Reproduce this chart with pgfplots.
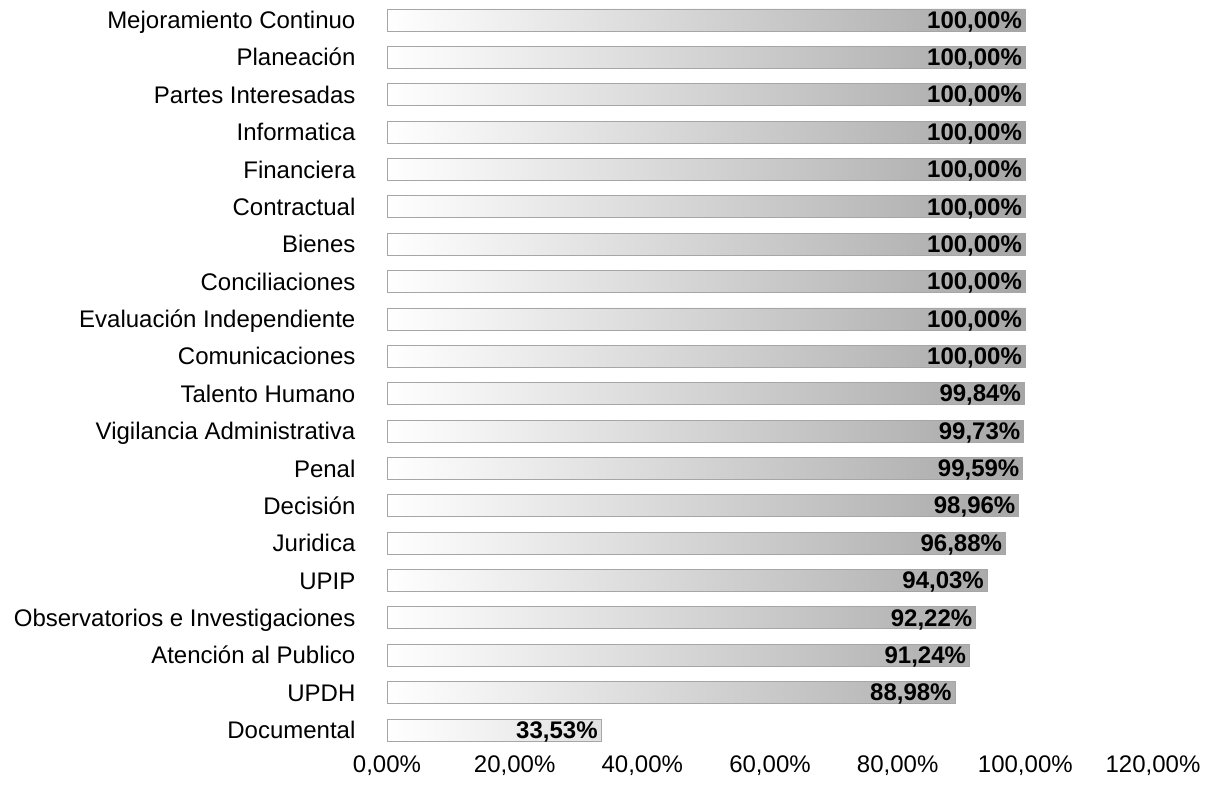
\documentclass[border=0pt]{standalone}
\usepackage{pgfplots}
\pgfplotsset{compat=1.18}
\usepackage{fontspec}
\setmainfont{Liberation Sans}
\begin{document}
\begin{tikzpicture}
\begin{axis}[
  name=ax,
  scale only axis,
  width=383pt, height=373.7pt,
  xmin=0, xmax=120,
  ymin=-0.5, ymax=19.5,
  xbar, bar width=11pt,
  axis line style={draw=none},
  tick style={draw=none},
  xtick={0,20,...,120},
  xticklabel={\pgfmathprintnumber[fixed,zerofill,precision=2,use comma]{\tick}\%},
  /pgf/number format/assume math mode=true,
  ytick={0,...,19},
  yticklabels={Documental,UPDH,Atención al Publico,Observatorios e Investigaciones,UPIP,Juridica,Decisión,Penal,Vigilancia Administrativa,Talento Humano,Comunicaciones,Evaluación Independiente,Conciliaciones,Bienes,Contractual,Financiera,Informatica,Partes Interesadas,Planeación,Mejoramiento Continuo},
  yticklabel style={xshift=-8pt, anchor=east, text height=10pt, text depth=1.4pt, font=\fontsize{12}{14}\selectfont},
  xticklabel style={font=\fontsize{12}{14}\selectfont},
  nodes near coords={\pgfmathprintnumber[fixed,zerofill,precision=2,use comma]{\pgfplotspointmeta}\%},
  every node near coord/.append style={anchor=east, inner sep=1.5pt, text height=8.8pt, text depth=0.6pt, font=\bfseries\fontsize{12}{14}\selectfont, text=black},
]
\addplot[draw=gray!70, line width=0.4pt, left color=white, right color=black!35] coordinates {
(33.53,0) (88.98,1) (91.24,2) (92.22,3) (94.03,4) (96.88,5) (98.96,6) (99.59,7) (99.73,8) (99.84,9)
(100,10) (100,11) (100,12) (100,13) (100,14) (100,15) (100,16) (100,17) (100,18) (100,19)
};
\end{axis}
\path ([xshift=-193.5pt,yshift=-20.65pt]ax.south west) rectangle ([xshift=31pt,yshift=0.65pt]ax.north east);
\end{tikzpicture}
\end{document}
